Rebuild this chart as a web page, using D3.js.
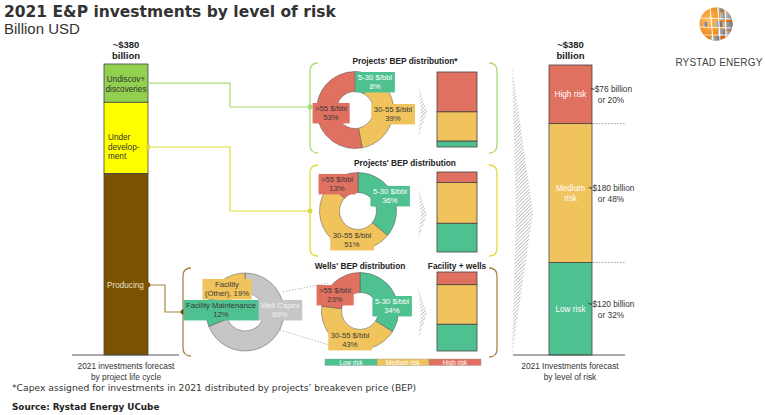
<!DOCTYPE html>
<html><head><meta charset="utf-8">
<script src="https://cdn.jsdelivr.net/npm/d3@7"></script>
<style>
html,body{margin:0;padding:0;background:#fff;}
svg{display:block;font-family:"Liberation Sans",Arial,sans-serif;}
</style></head>
<body>
<svg id="c" width="765" height="415"></svg>
<script>
// ---------- DATA ----------
const lifecycleStages = ["Undiscov+ discoveries", "Under development", "Producing"];
const lifecycleValues = [50, 93, 237];           // billion USD (top to bottom)
const riskLevels = ["Low risk", "Medium risk", "High risk"];
const riskValues = [120, 180, 76];               // billion USD
const riskPct = [32, 48, 20];
const bepBands = ["5-30 $/bbl", "30-55 $/bbl", ">55 $/bbl"];
const undiscoveredBep = [8, 39, 53];             // % low, medium, high
const underDevBep = [36, 51, 13];
const wellsBep = [34, 43, 23];
const facilityWellsRisk = [34, 50, 16];
const producingParts = ["Well Capex", "Facility Maintenance", "Facility (Other), "];
const producingValues = [69, 12, 19];
const totalLabel = ["~$380", "billion"];

// ---------- STYLE ----------
const cLow = "#4fc191", cMed = "#f0c35c", cHigh = "#e07060";
const riskColors = [cLow, cMed, cHigh];
const stageColors = ["#92d050", "#ffff00", "#7b5200"];
const bracketColors = ["#a9dc72", "#e0dc3a", "#a8844c"];
const svg = d3.select("#c");

const defs = svg.append("defs");
const pat = defs.append("pattern").attr("id", "hatch").attr("patternUnits", "userSpaceOnUse")
  .attr("width", 2.5).attr("height", 2.5).attr("patternTransform", "rotate(45)");
pat.append("rect").attr("width", 2.5).attr("height", 2.5).attr("fill", "#fff");
pat.append("line").attr("x1", 0).attr("y1", 0).attr("x2", 0).attr("y2", 2.5)
  .attr("stroke", "#9a9a9a").attr("stroke-width", 1.1);

// ---------- TITLE ----------
svg.append("text").attr("x", 4).attr("y", 17).attr("font-family", "DejaVu Sans, Verdana")
  .attr("font-weight", "bold").attr("font-size", 15.5).attr("fill", "#333")
  .text("2021 E&P investments by level of risk");
svg.append("text").attr("x", 4).attr("y", 34).attr("font-size", 15).attr("fill", "#333")
  .text("Billion USD");

// ---------- LOGO ----------
const logo = svg.append("g").attr("transform", "translate(716,24)");
const rg = defs.append("radialGradient").attr("id", "org").attr("cx", "30%").attr("cy", "40%").attr("r", "75%");
rg.append("stop").attr("offset", "0%").attr("stop-color", "#ffc060");
rg.append("stop").attr("offset", "60%").attr("stop-color", "#f08a1c");
rg.append("stop").attr("offset", "100%").attr("stop-color", "#c94e05");
const gg = defs.append("linearGradient").attr("id", "gry").attr("x1", "0").attr("x2", "1");
gg.append("stop").attr("offset", "0%").attr("stop-color", "#c4c4c4");
gg.append("stop").attr("offset", "100%").attr("stop-color", "#707070");
defs.append("clipPath").attr("id", "gl").append("circle").attr("r", 16.5);
logo.append("circle").attr("r", 16.5).attr("fill", "url(#org)");
const gl = logo.append("g").attr("clip-path", "url(#gl)");
[[1,-17,6,5],[4,-11,7,7],[9,-13,9,9],[-1,-3,7,6],[7,-2,10,8],[2,5,8,7],[10,7,8,8],[-5,12,9,6],[-13,-2,4,5]].forEach(r => {
  gl.append("rect").attr("x", r[0]).attr("y", r[1]).attr("width", r[2]).attr("height", r[3]).attr("fill", "url(#gry)");
});
[[-6,-17,-3,17],[2,-17,4,17],[9,-17,10,17]].forEach(l => gl.append("line").attr("x1", l[0]).attr("y1", l[1]).attr("x2", l[2]).attr("y2", l[3])
  .attr("stroke", "#fff").attr("stroke-width", 1));
[[-17,-6,17,-5],[-17,3,17,4],[-17,11,17,11]].forEach(l => gl.append("line").attr("x1", l[0]).attr("y1", l[1]).attr("x2", l[2]).attr("y2", l[3])
  .attr("stroke", "#fff").attr("stroke-width", 0.8));
svg.append("text").attr("x", 719).attr("y", 66).attr("text-anchor", "middle").attr("font-size", 10)
  .attr("fill", "#444").attr("letter-spacing", 0.2).text("RYSTAD ENERGY");

// ---------- LEFT BAR ----------
const base = 355;
const yL = d3.scaleLinear().domain([0, d3.sum(lifecycleValues)]).range([base, 64]);
const leftX = 104, barW = 44;
let cum = d3.sum(lifecycleValues);
const leftSegs = lifecycleValues.map((v, i) => { const top = cum; cum -= v; return {i, top, bot: cum}; });
svg.selectAll(".lseg").data(leftSegs).join("rect").attr("x", leftX).attr("width", barW)
  .attr("y", d => yL(d.top)).attr("height", d => yL(d.bot) - yL(d.top))
  .attr("fill", d => stageColors[d.i]).attr("stroke", "#444").attr("stroke-width", 0.8);
svg.append("line").attr("x1", 72).attr("x2", 179).attr("y1", base).attr("y2", base).attr("stroke", "#555").attr("stroke-width", 1.2);
totalLabel.forEach((t, k) => {
  svg.append("text").attr("x", leftX + barW / 2).attr("y", 48 + k * 11).attr("text-anchor", "middle")
    .attr("font-weight", "bold").attr("font-size", 9.5).attr("fill", "#222").text(t);
});
const m0 = (yL(leftSegs[0].top) + yL(leftSegs[0].bot)) / 2;
["Undiscov+", "discoveries"].forEach((t, k) => svg.append("text").attr("x", leftX + barW / 2).attr("y", m0 - 1.5 + k * 10)
  .attr("text-anchor", "middle").attr("font-size", 8.2).attr("fill", "#333").text(t));
["Under", "develop-", "ment"].forEach((t, k) => svg.append("text").attr("x", leftX + 4).attr("y", 140 + k * 9.7)
  .attr("font-size", 8.2).attr("fill", "#333").text(t));
svg.append("text").attr("x", leftX + 3).attr("y", 288).attr("font-size", 8.2).attr("fill", "#e8e0d0").text("Producing");
[["2021 investments forecast", 369], ["by project life cycle", 380]].forEach(d =>
  svg.append("text").attr("x", 126).attr("y", d[1]).attr("text-anchor", "middle").attr("font-size", 8.3).attr("fill", "#333").text(d[0]));

// ---------- CONNECTORS ----------
function dot(x, y, c) { svg.append("circle").attr("cx", x).attr("cy", y).attr("r", 2.4).attr("fill", c); }
const connectors = [
  {pts: [[148, m0], [230, m0], [230, 107], [310, 107]], c: bracketColors[0], dots: [[310, 107]]},
  {pts: [[148, 147], [230, 147], [230, 211], [310, 211]], c: bracketColors[1], dots: [[148, 147], [310, 211]]},
  {pts: [[148, 285], [165, 285], [165, 312], [183, 312]], c: bracketColors[2], dots: [[148, 285], [183, 312]]}
];
connectors.forEach((cn, i) => {
  svg.append("path").attr("d", d3.line()(cn.pts)).attr("fill", "none").attr("stroke", cn.c).attr("stroke-width", 1.2);
  cn.dots.forEach(p => dot(p[0], p[1], i === 2 ? "#7b5200" : cn.c));
});

// ---------- BRACKETS ----------
function lbr(x, y0, y1, c) {
  const r = 8;
  svg.append("path").attr("d", `M${x + r},${y0} Q${x},${y0} ${x},${y0 + r} L${x},${y1 - r} Q${x},${y1} ${x + r},${y1}`)
    .attr("fill", "none").attr("stroke", c).attr("stroke-width", 1.3);
}
function rbr(x, y0, y1, c) {
  const r = 8;
  svg.append("path").attr("d", `M${x - r},${y0} Q${x},${y0} ${x},${y0 + r} L${x},${y1 - r} Q${x},${y1} ${x - r},${y1}`)
    .attr("fill", "none").attr("stroke", c).attr("stroke-width", 1.3);
}
lbr(310, 63, 153, bracketColors[0]); rbr(497, 63, 153, bracketColors[0]);
lbr(310, 165, 256, bracketColors[1]); rbr(497, 165, 256, bracketColors[1]);
lbr(183, 268, 356, bracketColors[2]); rbr(497, 268, 357, bracketColors[2]);
dot(310, 107, bracketColors[0]); dot(310, 211, bracketColors[1]); dot(183, 312, "#7b5200");

// ---------- DONUT HELPER ----------
const pie = d3.pie().sort(null).value(d => d);
function label(g, x, y, lines, fill, txt, fs) {
  const t = g.append("text").attr("x", x).attr("y", y).attr("text-anchor", "middle")
    .attr("font-size", fs).attr("fill", txt);
  lines.forEach((l, k) => t.append("tspan").attr("x", x).attr("dy", k === 0 ? (-(lines.length - 1) * fs * 0.55 + fs * 0.35) : fs * 1.1).text(l));
  const b = t.node().getBBox();
  g.insert("rect", () => t.node()).attr("x", b.x - 2.5).attr("y", b.y - 1.5).attr("width", b.width + 5).attr("height", b.height + 3)
    .attr("fill", fill);
}
function donut(cx, cy, R, r, values, colors, labels, offsets, txtColors) {
  const g = svg.append("g").attr("transform", `translate(${cx},${cy})`);
  const arc = d3.arc().innerRadius(r).outerRadius(R);
  g.selectAll("path").data(pie(values)).join("path").attr("d", arc)
    .attr("fill", (d, i) => colors[i]).attr("stroke", "#555").attr("stroke-width", 0.5);
  values.forEach((v, i) => label(g, offsets[i][0], offsets[i][1], labels[i], colors[i], txtColors[i], 7.7));
  return g;
}
const darkT = "#3a3a3a";
const bepSets = [undiscoveredBep, underDevBep, wellsBep];
const donutPos = [[355, 110], [358, 211], [360, 311]];
const labelOffsets = [
  [[20, -28], [38, 4], [-24, 3]],
  [[32, -15], [-6, 29], [-21, -27]],
  [[32, -5], [-10, 29], [-25, -16]]
];
[[[283, 292], [328, 283]], [[280, 330], [329, 345]]].forEach(p =>
  svg.append("path").attr("d", d3.line()(p)).attr("stroke", "#aaa").attr("stroke-width", 0.8).attr("stroke-dasharray", "1.5,1.5"));

bepSets.forEach((vals, k) => {
  donut(donutPos[k][0], donutPos[k][1], 38.5, 18.5, vals, riskColors,
    vals.map((v, i) => [bepBands[i], v + "%"]), labelOffsets[k], ["#fff", darkT, darkT]);
});
donut(245, 312, 39, 19, producingValues, ["#c6c6c6", cLow, cMed],
  [["Well Capex", producingValues[0] + "%"], [producingParts[1], producingValues[1] + "%"], ["Facility", "(Other), " + producingValues[2] + "%"]],
  [[35, -2], [-24, -2], [-18, -23]], ["#f4f4f4", darkT, darkT]);

[["Projects' BEP distribution*", 405, 64], ["Projects' BEP distribution", 405, 166], ["Wells' BEP distribution", 360, 269], ["Facility + wells", 457, 269]]
  .forEach(d => svg.append("text").attr("x", d[1]).attr("y", d[2]).attr("text-anchor", "middle").attr("font-weight", "bold")
    .attr("font-size", 8.3).attr("fill", "#222").text(d[0]));

// ---------- SMALL STACKED BARS ----------
const smallSets = [undiscoveredBep, underDevBep, facilityWellsRisk];
const smallY = [[72, 147], [172, 252], [272, 351]];
smallSets.forEach((vals, k) => {
  const ys = d3.scaleLinear().domain([0, d3.sum(vals)]).range([smallY[k][1], smallY[k][0]]);
  let c = 0;
  const segs = vals.map((v, i) => { const s = {i, lo: c, hi: c + v}; c += v; return s; });
  svg.selectAll(".sb" + k).data(segs).join("rect").attr("x", 437).attr("width", 40)
    .attr("y", d => ys(d.hi)).attr("height", d => ys(d.lo) - ys(d.hi))
    .attr("fill", d => riskColors[d.i]).attr("stroke", "#444").attr("stroke-width", 0.8);
  const cy = (smallY[k][0] + smallY[k][1]) / 2 + 2;
  svg.append("path").attr("d", `M418,${cy - 26} L427,${cy} L418,${cy + 26} L421,${cy} Z`).attr("fill", "url(#hatch)");
});

const lg = svg.append("g");
riskLevels.forEach((r, i) => {
  lg.append("rect").attr("x", 325 + i * 52).attr("y", 359).attr("width", 52).attr("height", 6.5)
    .attr("fill", riskColors[i]).attr("stroke", "#999").attr("stroke-width", 0.4);
  lg.append("text").attr("x", 351 + i * 52).attr("y", 364.6).attr("text-anchor", "middle").attr("font-size", 6.3)
    .attr("fill", "#fff").text(r);
});

// ---------- BIG CHEVRON ----------
svg.append("path").attr("d", "M512,67 L533,213 L512,355 L516,213 Z").attr("fill", "url(#hatch)");

// ---------- RIGHT BAR ----------
const yR = d3.scaleLinear().domain([0, d3.sum(riskValues)]).range([base, 65]);
const rightX = 549, rW = 43;
let c2 = 0;
const rSegs = riskValues.map((v, i) => { const s = {i, lo: c2, hi: c2 + v}; c2 += v; return s; });
svg.selectAll(".rseg").data(rSegs).join("rect").attr("x", rightX).attr("width", rW)
  .attr("y", d => yR(d.hi)).attr("height", d => yR(d.lo) - yR(d.hi))
  .attr("fill", d => riskColors[d.i]).attr("stroke", "#444").attr("stroke-width", 0.8);
svg.append("line").attr("x1", 513).attr("x2", 625).attr("y1", base).attr("y2", base).attr("stroke", "#555").attr("stroke-width", 1.2);
totalLabel.forEach((t, k) => svg.append("text").attr("x", rightX + rW / 2).attr("y", 48 + k * 11).attr("text-anchor", "middle")
  .attr("font-weight", "bold").attr("font-size", 9.5).attr("fill", "#222").text(t));
const inLabels = [["Low risk"], ["Medium", "risk"], ["High risk"]];
rSegs.forEach(s => {
  const mid = (yR(s.lo) + yR(s.hi)) / 2;
  inLabels[s.i].forEach((t, k) => svg.append("text").attr("x", rightX + rW / 2)
    .attr("y", mid + 3 - (inLabels[s.i].length - 1) * 5 + k * 10).attr("text-anchor", "middle")
    .attr("font-size", 8.2).attr("fill", "#fff").text(t));
  [`~$${riskValues[s.i]} billion`, `or ${riskPct[s.i]}%`].forEach((t, k) => svg.append("text").attr("x", 611)
    .attr("y", mid - 2 + k * 11).attr("text-anchor", "middle").attr("font-size", 8.3).attr("fill", "#333").text(t));
  if (s.i > 0) svg.append("line").attr("x1", 593).attr("x2", 625).attr("y1", yR(s.lo)).attr("y2", yR(s.lo))
    .attr("stroke", "#888").attr("stroke-width", 0.8).attr("stroke-dasharray", "1.5,1.5");
});
[["2021 Investments forecast", 369], ["by level of risk", 380]].forEach(d =>
  svg.append("text").attr("x", 570).attr("y", d[1]).attr("text-anchor", "middle").attr("font-size", 8.3).attr("fill", "#333").text(d[0]));

// ---------- FOOTER ----------
svg.append("text").attr("x", 12).attr("y", 391).attr("font-family", "DejaVu Sans, Verdana").attr("font-size", 9.2).attr("fill", "#333")
  .text("*Capex assigned for investments in 2021 distributed by projects\u2019 breakeven price (BEP)");
svg.append("text").attr("x", 12).attr("y", 410).attr("font-family", "DejaVu Sans, Verdana").attr("font-weight", "bold")
  .attr("font-size", 8.8).attr("fill", "#222").text("Source: Rystad Energy UCube");
</script>
</body></html>
